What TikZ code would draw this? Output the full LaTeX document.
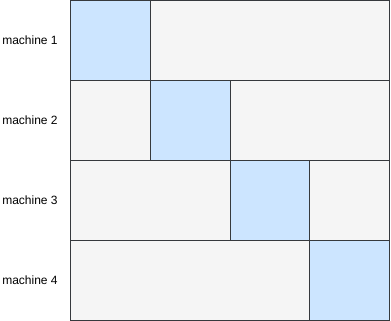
\documentclass[tikz,border=0pt]{standalone}
\usepackage{fontspec}
\setmainfont{Liberation Sans}
\usetikzlibrary{positioning}
\definecolor{slotcolor}{HTML}{CCE5FF}
\definecolor{idlecolor}{HTML}{F5F5F5}
\definecolor{edgecolor}{HTML}{36393D}

\begin{document}
\begin{tikzpicture}[
    x=1pt, y=-1pt,
    cell/.style={rectangle, draw=edgecolor, line width=1pt, inner sep=0pt, anchor=north west, minimum height=79.8pt},
    slot/.style={cell, fill=slotcolor, minimum width=79.8pt},
    idle/.style={cell, fill=idlecolor},
    label/.style={font=\fontsize{12}{14}\selectfont, anchor=center}
]
\useasboundingbox (0,0) rectangle (391,321);

% Machine 1
\node[slot] (slot1) at (70,0.5) {};
\node[idle, minimum width=239.4pt] (idle1r) at (149.8,0.5) {};
\node[label] (m1) at (30,40) {machine 1};

% Machine 2
\node[idle, minimum width=79.8pt] (idle2l) at (70,80.3) {};
\node[slot] (slot2) at (149.8,80.3) {};
\node[idle, minimum width=159.6pt] (idle2r) at (229.6,80.3) {};
\node[label] (m2) at (30,120) {machine 2};

% Machine 3
\node[idle, minimum width=159.6pt] (idle3l) at (70,160.1) {};
\node[slot] (slot3) at (229.6,160.1) {};
\node[idle, minimum width=79.8pt] (idle3r) at (309.4,160.1) {};
\node[label] (m3) at (30,200) {machine 3};

% Machine 4
\node[idle, minimum width=239.4pt] (idle4l) at (70,239.9) {};
\node[slot] (slot4) at (309.4,239.9) {};
\node[label] (m4) at (30,280) {machine 4};

\end{tikzpicture}
\end{document}
